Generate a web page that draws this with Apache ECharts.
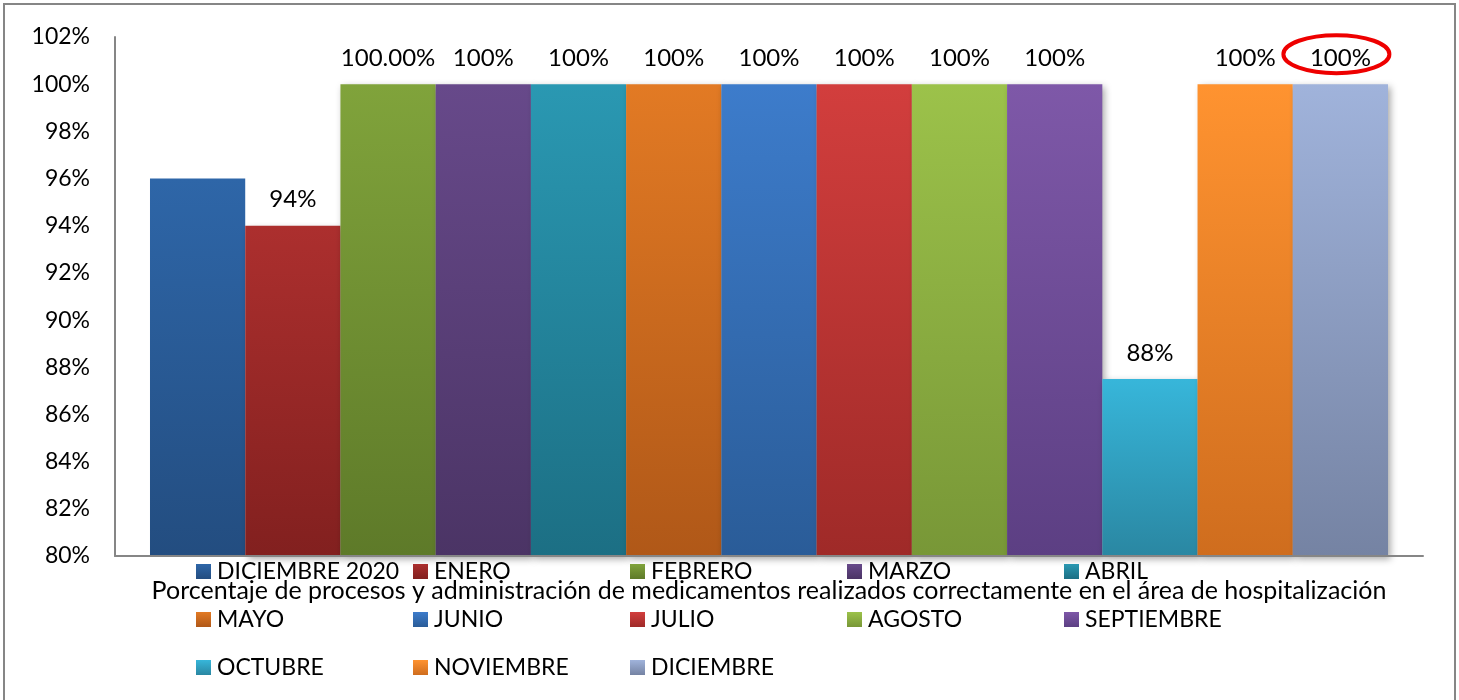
<!DOCTYPE html>
<html>
<head>
<meta charset="utf-8">
<script src="https://cdn.jsdelivr.net/npm/echarts@6/dist/echarts.min.js"></script>
<style>
html,body{margin:0;padding:0;background:#fff;}
#c{width:1459px;height:700px;}
</style>
</head>
<body>
<div id="c"></div>
<script>
// ---- data ----
const category = ['Porcentaje de procesos y administración de medicamentos realizados correctamente en el área de hospitalización'];
const months = ['DICIEMBRE 2020','ENERO','FEBRERO','MARZO','ABRIL','MAYO','JUNIO','JULIO','AGOSTO','SEPTIEMBRE','OCTUBRE','NOVIEMBRE','DICIEMBRE'];
const values = [96, 94, 100, 100, 100, 100, 100, 100, 100, 100, 87.5, 100, 100];
const labelTexts = ['', '94%', '100.00%', '100%', '100%', '100%', '100%', '100%', '100%', '100%', '88%', '100%', '100%'];
const yTicks = {min: 80, max: 102, interval: 2};

// ---- styles ----
const topColors = ['#2E66A8','#AC2F2E','#80A33B','#67498A','#2A98B2','#E27A24','#3D7CCB','#D23E3D','#9CC24A','#7E58A8','#37B6DA','#FF9330','#A0B3DB'];
const bottomColors = ['#234D80','#82201F','#5E7A29','#4B3465','#1C6F84','#B05818','#2A5C98','#9F2A28','#789737','#5C3F83','#2A87A2','#CF6D1E','#7583A3'];
const FONT = 'Lato';

const chart = echarts.init(document.getElementById('c'), null, {renderer: 'canvas'});

const series = months.map((m, i) => ({
  name: m,
  type: 'bar',
  barGap: '0%',
  barCategoryGap: '5.35%',
  data: [values[i]],
  itemStyle: {
    color: {type: 'linear', x: 0, y: 0, x2: 0, y2: 1,
      colorStops: [{offset: 0, color: topColors[i]}, {offset: 1, color: bottomColors[i]}]},
    shadowBlur: 7,
    shadowColor: 'rgba(0,0,0,0.35)',
    shadowOffsetX: 3,
    shadowOffsetY: 3
  },
  label: {
    show: labelTexts[i] !== '',
    position: 'top',
    distance: 14,
    formatter: () => labelTexts[i],
    color: '#000',
    fontFamily: FONT,
    fontSize: 24,
    lineHeight: 24
  }
}));

// legend grid: 5 columns, 3 rows
const colX = [196, 413, 630, 847, 1064];
const legends = colX.map((x, c) => ({
  orient: 'vertical',
  left: x,
  top: 560,
  padding: 0,
  itemWidth: 15,
  itemHeight: 15,
  itemGap: 25,
  icon: 'rect',
  selectedMode: false,
  data: months.filter((m, i) => i % 5 === c),
  textStyle: {color: '#000', fontFamily: FONT, fontSize: 23, lineHeight: 23, padding: [0, 0, 0, 1]}
}));

chart.setOption({
  animation: false,
  backgroundColor: '#fff',
  grid: {left: 115, right: 36, top: 37, bottom: 144, containLabel: false},
  legend: legends,
  xAxis: {
    type: 'category',
    data: category,
    axisLine: {show: true, lineStyle: {color: '#868686', width: 2}},
    axisTick: {show: false},
    axisLabel: {color: '#000', fontFamily: FONT, fontSize: 25, margin: 22, interval: 0},
    z: 10
  },
  yAxis: {
    type: 'value',
    min: yTicks.min,
    max: yTicks.max,
    interval: yTicks.interval,
    axisLine: {show: true, lineStyle: {color: '#868686', width: 2}},
    axisTick: {show: false},
    splitLine: {show: false},
    axisLabel: {color: '#000', fontFamily: FONT, fontSize: 23, margin: 25, formatter: '{value}%'}
  },
  series: series
});

// annotations: outer frame and red ellipse round the last label
const graphics = [{
  type: 'rect',
  shape: {x: 4, y: 4, width: 1451, height: 720},
  style: {fill: null, stroke: '#868686', lineWidth: 2},
  silent: true
}];
try {
  const last = months.length - 1;
  const layout = chart.getModel().getSeriesByIndex(last).getData().getItemLayout(0);
  const cx = layout.x + layout.width / 2;
  const topY = Math.min(layout.y, layout.y + layout.height);
  graphics.push({
    type: 'ellipse',
    shape: {cx: cx - 4, cy: topY - 30, rx: 53, ry: 19},
    style: {fill: null, stroke: '#EE0000', lineWidth: 4},
    silent: true,
    z: 100
  });
} catch (e) {}
chart.setOption({graphic: graphics});
</script>
</body>
</html>
